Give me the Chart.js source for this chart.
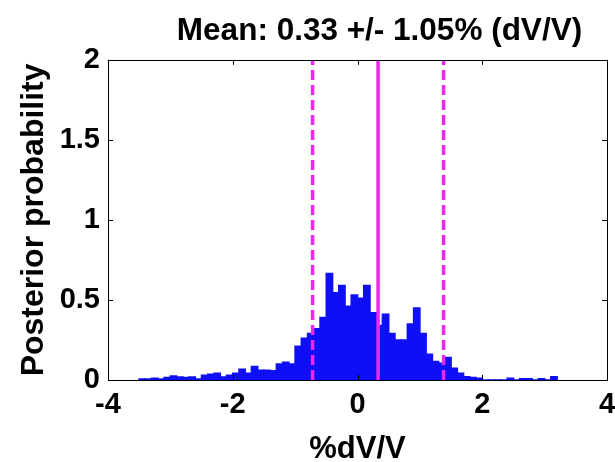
<!DOCTYPE html>
<html>
<head>
<meta charset="utf-8">
<script src="https://cdn.jsdelivr.net/npm/chart.js@4.4.1/dist/chart.umd.min.js"></script>
<style>
  html, body { margin: 0; padding: 0; background: #ffffff; }
  #wrap { width: 615px; height: 462px; }
</style>
</head>
<body>
<div id="wrap"><canvas id="c" width="615" height="462"></canvas></div>
<script>
// ---- data ----
const binCenters = [-3.45,-3.35,-3.25,-3.15,-3.05,-2.95,-2.85,-2.75,-2.65,-2.55,
  -2.45,-2.35,-2.25,-2.15,-2.05,-1.95,-1.85,-1.75,-1.65,-1.55,
  -1.45,-1.35,-1.25,-1.15,-1.05,-0.95,-0.85,-0.75,-0.65,-0.55,
  -0.45,-0.35,-0.25,-0.15,-0.05,0.05,0.15,0.25,0.35,0.45,
  0.55,0.65,0.75,0.85,0.95,1.05,1.15,1.25,1.35,1.45,
  1.55,1.65,1.75,1.85,1.95,2.05,2.15,2.25,2.35,2.45,
  2.55,2.65,2.75,2.85,2.95,3.05,3.15];
const posterior = [0.006,0.006,0.010,0.006,0.015,0.025,0.019,0.015,0.019,0.006,
  0.030,0.036,0.042,0.019,0.030,0.042,0.067,0.042,0.084,0.060,
  0.060,0.057,0.100,0.110,0.100,0.21,0.26,0.29,0.32,0.39,
  0.665,0.545,0.59,0.46,0.53,0.51,0.59,0.42,0.34,0.41,
  0.29,0.25,0.25,0.35,0.45,0.29,0.16,0.115,0.105,0.14,
  0.073,0.042,0.02,0.015,0.01,0,0,0,0,0.01,
  0,0.008,0.008,0,0.008,0,0.02];
const meanLineX = [0.33];
const stdLineX = [-0.72, 1.38];
const xTicks = [-4, -2, 0, 2, 4];
const yTicks = [0, 0.5, 1, 1.5, 2];
const titleText = 'Mean: 0.33 +/- 1.05% (dV/V)';
const xLabel = '%dV/V';
const yLabel = 'Posterior probability';

// ---- styling ----
const FONT = "'Liberation Sans', Arial, Helvetica, sans-serif";
const BAR_COLOR = 'rgb(15,15,245)';
const LINE_COLOR = 'rgb(236,40,236)';

const yMin = yTicks[0], yMax = yTicks[yTicks.length - 1];
const barData = binCenters.map((x, i) => ({ x: x, y: posterior[i] }));
function vline(x) { return [{ x: x, y: yMin }, { x: x, y: yMax }]; }

const datasets = [];
meanLineX.forEach(x => datasets.push({
  type: 'line', data: vline(x), borderColor: LINE_COLOR, borderWidth: 3.5,
  pointRadius: 0, order: 1, borderCapStyle: 'butt', tension: 0
}));
stdLineX.forEach(x => datasets.push({
  type: 'line', data: vline(x), borderColor: LINE_COLOR, borderWidth: 3.5,
  borderDash: [10, 5], pointRadius: 0, order: 1, borderCapStyle: 'butt', tension: 0
}));
datasets.push({
  type: 'bar', data: barData, backgroundColor: BAR_COLOR, borderWidth: 0,
  inflateAmount: 0.8,
  barPercentage: 1, categoryPercentage: 1, order: 2, grouped: false
});

const boxPlugin = {
  id: 'boxPlugin',
  afterLayout(chart) {
    // nudge the title slightly right, as in the reference
    const t = chart.titleBlock;
    if (t) { t.left += 22; t.right += 22; }
  },
  beforeDraw(chart) {
    const ctx = chart.ctx;
    ctx.save();
    ctx.fillStyle = '#ffffff';
    ctx.fillRect(0, 0, chart.width, chart.height);
    ctx.restore();
  },
  afterDraw(chart) {
    const { ctx, chartArea: a, scales } = chart;
    ctx.save();
    ctx.strokeStyle = '#000000';
    ctx.lineWidth = 1;
    ctx.strokeRect(Math.round(a.left) + 0.5, Math.round(a.top) + 0.5,
      Math.round(a.right - a.left), Math.round(a.bottom - a.top));
    const tl = 5;
    ctx.beginPath();
    xTicks.forEach(v => {
      const px = Math.round(scales.x.getPixelForValue(v)) + 0.5;
      ctx.moveTo(px, a.bottom); ctx.lineTo(px, a.bottom - tl);
      ctx.moveTo(px, a.top); ctx.lineTo(px, a.top + tl);
    });
    yTicks.forEach(v => {
      const py = Math.round(scales.y.getPixelForValue(v)) + 0.5;
      ctx.moveTo(a.left, py); ctx.lineTo(a.left + tl, py);
      ctx.moveTo(a.right, py); ctx.lineTo(a.right - tl, py);
    });
    ctx.stroke();
    ctx.restore();
  }
};

new Chart(document.getElementById('c'), {
  data: { datasets: datasets },
  options: {
    responsive: false,
    animation: false,
    devicePixelRatio: 1,
    layout: { padding: { left: 0, right: 0, top: 0, bottom: 0 } },
    plugins: {
      legend: { display: false },
      tooltip: { enabled: false },
      title: {
        display: true, text: titleText, color: '#000000', fullSize: false,
        font: { family: FONT, size: 31.5, weight: 'bold', lineHeight: 1.2 },
        padding: { top: 12, bottom: 10 }
      }
    },
    scales: {
      x: {
        type: 'linear', min: xTicks[0], max: xTicks[xTicks.length - 1],
        offset: false,
        afterBuildTicks: s => { s.ticks = xTicks.map(v => ({ value: v })); },
        afterFit: s => { s.height = 82; s.paddingRight = 8; s.paddingLeft = 0; },
        grid: { display: false, drawTicks: false },
        border: { display: false },
        ticks: { color: '#000000', padding: 8, maxRotation: 0, autoSkip: false,
          callback: v => String(v),
          font: { family: FONT, size: 29, weight: 'bold', lineHeight: 1.2 } },
        title: { display: true, text: xLabel, color: '#000000',
          font: { family: FONT, size: 31, weight: 'bold', lineHeight: 0.8 },
          padding: { top: 0, bottom: 0 } }
      },
      y: {
        type: 'linear', min: yMin, max: yMax,
        afterBuildTicks: s => { s.ticks = yTicks.map(v => ({ value: v })); },
        afterFit: s => { s.width = 108; },
        grid: { display: false, drawTicks: false },
        border: { display: false },
        ticks: { color: '#000000', padding: 8, autoSkip: false,
          callback: v => String(v),
          font: { family: FONT, size: 29, weight: 'bold', lineHeight: 1.2 } },
        title: { display: true, text: yLabel, color: '#000000',
          font: { family: FONT, size: 32, weight: 'bold', lineHeight: 1.2 },
          padding: { top: 15, bottom: 0 } }
      }
    }
  },
  plugins: [boxPlugin]
});
</script>
</body>
</html>
